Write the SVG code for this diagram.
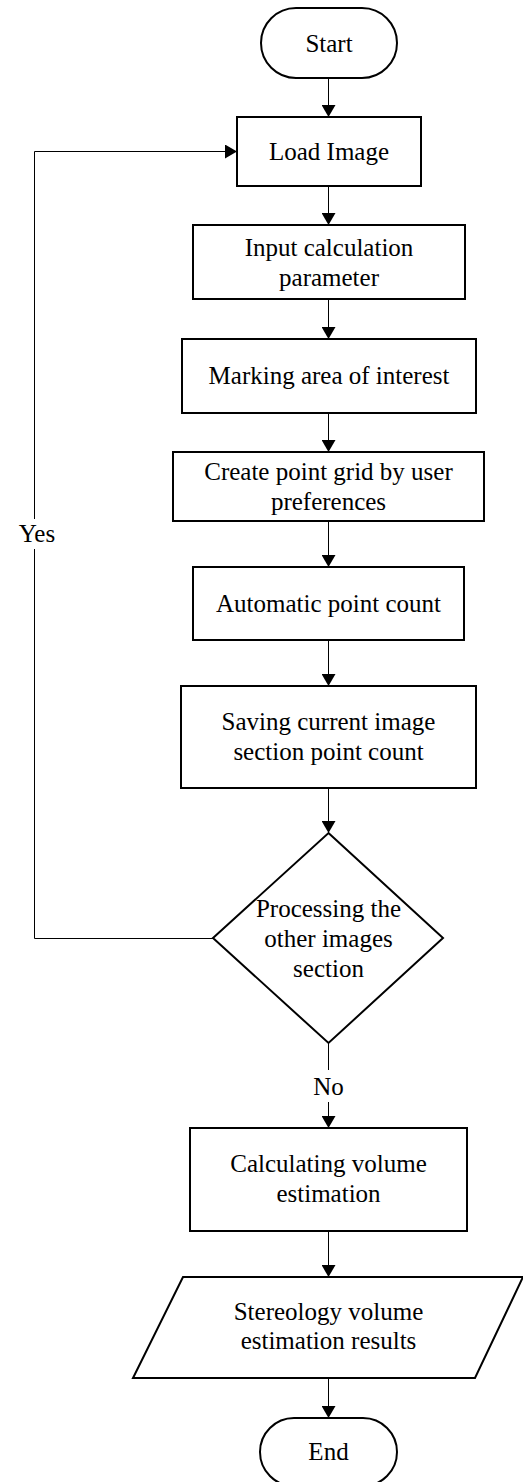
<svg xmlns="http://www.w3.org/2000/svg" width="523" height="1482" viewBox="0 0 523 1482">
<style>
.n{fill:#fff;stroke:#000;stroke-width:2}
.t{font-family:"Liberation Serif","Times New Roman",serif;font-size:25px;fill:#000;text-anchor:middle}
.c{fill:none;stroke:#000;stroke-width:1}
</style>
<defs>
<marker id="ah" markerUnits="userSpaceOnUse" markerWidth="12" markerHeight="14" refX="12" refY="7" orient="auto">
<path d="M0,0 L12,7 L0,14 z" fill="#000"/>
</marker>
</defs>
<rect width="523" height="1482" fill="#fff"/>
<g id="connectors">
<line class="c" x1="328.5" y1="78" x2="328.5" y2="117" marker-end="url(#ah)"/>
<line class="c" x1="328.5" y1="186" x2="328.5" y2="225" marker-end="url(#ah)"/>
<line class="c" x1="328.5" y1="299" x2="328.5" y2="339" marker-end="url(#ah)"/>
<line class="c" x1="328.5" y1="413" x2="328.5" y2="452" marker-end="url(#ah)"/>
<line class="c" x1="328.5" y1="521" x2="328.5" y2="567" marker-end="url(#ah)"/>
<line class="c" x1="328.5" y1="640" x2="328.5" y2="686" marker-end="url(#ah)"/>
<line class="c" x1="328.5" y1="788" x2="328.5" y2="833" marker-end="url(#ah)"/>
<line class="c" x1="328.5" y1="1043" x2="328.5" y2="1070"/>
<line class="c" x1="328.5" y1="1102" x2="328.5" y2="1128" marker-end="url(#ah)"/>
<line class="c" x1="328.5" y1="1231" x2="328.5" y2="1277" marker-end="url(#ah)"/>
<line class="c" x1="328.5" y1="1378" x2="328.5" y2="1418" marker-end="url(#ah)"/>
<polyline class="c" points="213,938.5 34.5,938.5 34.5,549"/>
<polyline class="c" points="34.5,519 34.5,151.5 237,151.5" marker-end="url(#ah)"/>
<text class="t" x="37" y="542">Yes</text>
<text class="t" x="328.5" y="1095">No</text>
</g>
<g id="start">
<rect class="n" x="261" y="8" width="136" height="70" rx="35" ry="35"/>
<text class="t" x="329" y="51.5">Start</text>
</g>
<g id="load">
<rect class="n" x="237" y="117" width="184" height="69"/>
<text class="t" x="329" y="159.5">Load Image</text>
</g>
<g id="input">
<rect class="n" x="193" y="225" width="272" height="74"/>
<text class="t" x="329" y="255.5">Input calculation</text>
<text class="t" x="329" y="285.5">parameter</text>
</g>
<g id="marking">
<rect class="n" x="182" y="339" width="294" height="74"/>
<text class="t" x="329" y="384">Marking area of interest</text>
</g>
<g id="grid">
<rect class="n" x="173" y="452" width="311" height="69"/>
<text class="t" x="328.5" y="479.5">Create point grid by user</text>
<text class="t" x="328.5" y="509.5">preferences</text>
</g>
<g id="count">
<rect class="n" x="193" y="567" width="271" height="73"/>
<text class="t" x="328.5" y="611.5">Automatic point count</text>
</g>
<g id="saving">
<rect class="n" x="181" y="686" width="295" height="102"/>
<text class="t" x="328.5" y="729.5">Saving current image</text>
<text class="t" x="328.5" y="759.5">section point count</text>
</g>
<g id="decision">
<polygon class="n" points="328.5,833 443,938 328.5,1043 213,938"/>
<text class="t" x="328.5" y="917">Processing the</text>
<text class="t" x="328.5" y="947">other images</text>
<text class="t" x="328.5" y="977">section</text>
</g>
<g id="calc">
<rect class="n" x="190" y="1128" width="277" height="103"/>
<text class="t" x="328.5" y="1172">Calculating volume</text>
<text class="t" x="328.5" y="1202">estimation</text>
</g>
<g id="results">
<polygon class="n" points="183,1277 523,1277 475,1378 133,1378"/>
<text class="t" x="328.5" y="1320">Stereology volume</text>
<text class="t" x="328.5" y="1349">estimation results</text>
</g>
<g id="end">
<rect class="n" x="260" y="1418" width="137" height="68" rx="34" ry="34"/>
<text class="t" x="328.5" y="1460">End</text>
</g>
</svg>
